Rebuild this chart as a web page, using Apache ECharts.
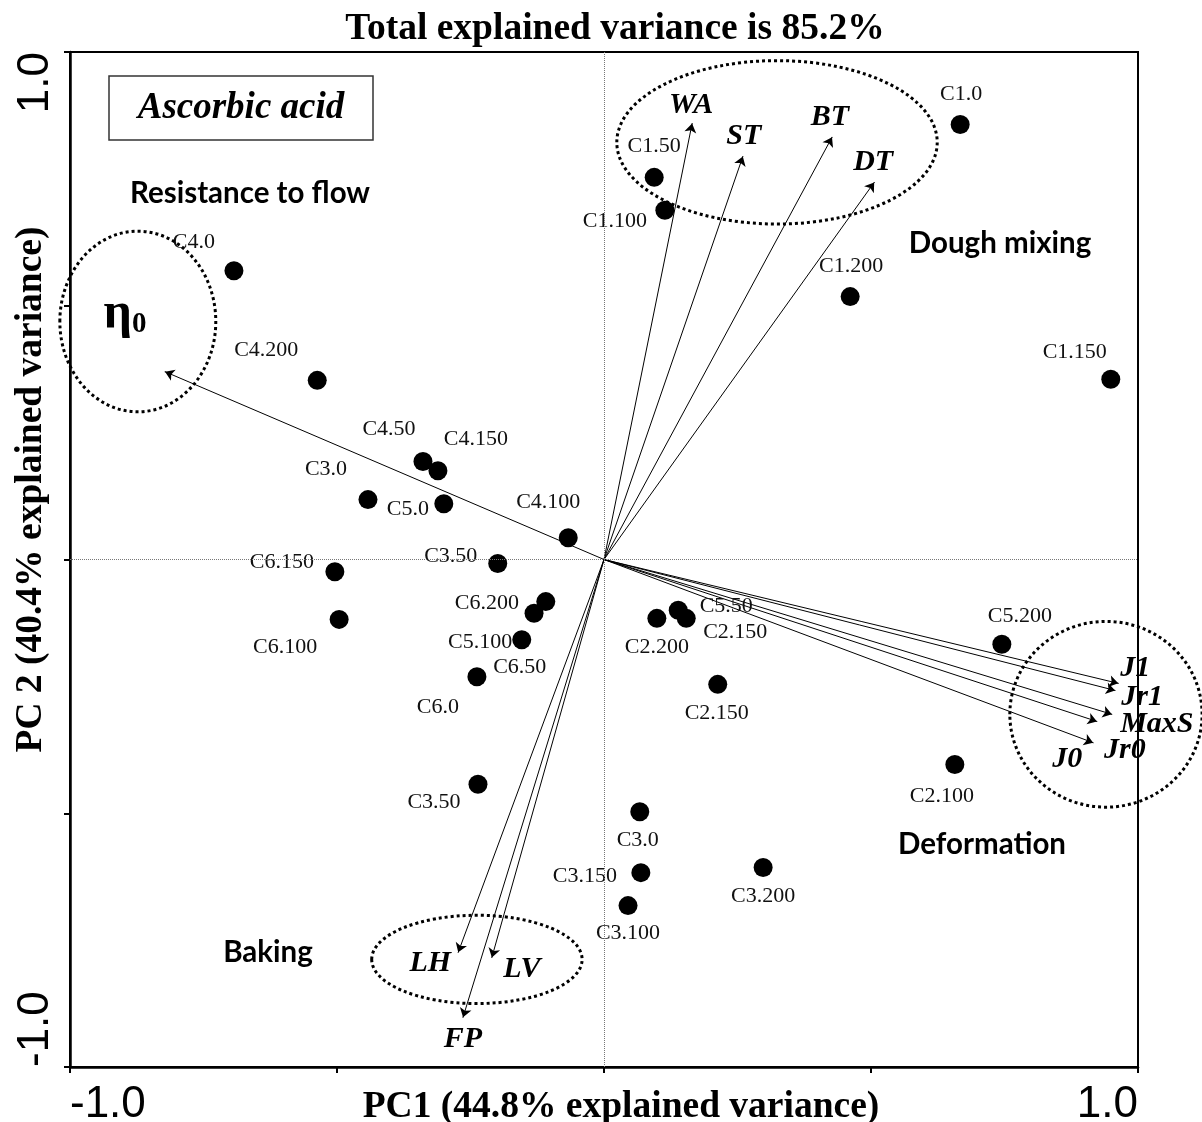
<!DOCTYPE html>
<html><head><meta charset="utf-8">
<script src="https://cdn.jsdelivr.net/npm/echarts@6/dist/echarts.min.js"></script>
<style>html,body{margin:0;padding:0;background:#fff}#chart{width:1202px;height:1122px}</style>
</head><body><div id="chart"></div>
<script>
// ---------------- data ----------------
const sampleNames = ['C1.0','C1.50','C1.100','C1.200','C1.150','C4.0','C4.200','C4.50','C4.150','C3.0','C5.0','C4.100','C3.50','C6.150','C6.100','C6.200','C5.100','C6.50','C6.0','C3.50','C2.200','C5.50','C2.150','C2.150','C5.200','C2.100','C3.0','C3.150','C3.100','C3.200'];
const scoresPC1 = [0.667,0.094,0.114,0.461,0.949,-0.693,-0.537,-0.339,-0.311,-0.442,-0.300,-0.067,-0.199,-0.504,-0.496,-0.109,-0.131,-0.154,-0.238,-0.236,0.099,0.139,0.154,0.213,0.745,0.657,0.067,0.069,0.045,0.298];
const scoresPC2 = [0.857,0.753,0.688,0.518,0.355,0.569,0.353,0.193,0.175,0.118,0.110,0.043,-0.008,-0.024,-0.118,-0.083,-0.106,-0.158,-0.231,-0.443,-0.116,-0.100,-0.116,-0.246,-0.167,-0.404,-0.497,-0.617,-0.682,-0.607];

const loadingNames = ['WA','ST','BT','DT','η0','J1','Jr1','MaxS','Jr0','J0','LH','LV','FP'];
const loadingsPC1 = [0.165,0.260,0.427,0.506,-0.822,0.963,0.957,0.951,0.923,0.916,-0.273,-0.210,-0.264];
const loadingsPC2 = [0.859,0.794,0.832,0.743,0.370,-0.244,-0.258,-0.305,-0.319,-0.361,-0.774,-0.784,-0.902];

const axisTickLabels = {'-1': '-1.0', '1': '1.0'};
const titleText = 'Total explained variance is 85.2%';
const xAxisTitle = 'PC1 (44.8% explained variance)';
const yAxisTitle = 'PC 2 (40.4% explained variance)';
const boxText = 'Ascorbic acid';
const groupLabels = ['Resistance to flow','Dough mixing','Deformation','Baking'];

// ---------------- layout / style ----------------
const sampleLabelOffsets = [[1,-30],[0,-31],[-50,11],[1,-30],[-36,-27],[-40,-29],[-51,-30],[-34,-32],[38,-31],[-42,-30],[-36,6],[-20,-35],[-47,-7],[-53,-9],[-54,28],[-59,2],[-54,29],[-2,28],[-39,30],[-44,18],[0,29],[48,-4],[49,14],[-1,29],[18,-28],[-13,32],[-2,28],[-56,4],[0,28],[0,29]];
const loadingLabelOffsets = [[-1,-18],[1,-20],[-2,-20],[-1,-20],[-40,-58],[17,-15],[27,7],[45,10],[28,29],[-26,17],[-28,11],[30,12],[0,22]];
const groupLabelPos = [[250,193],[1000,243],[982,844],[268,952]];
// ellipses: centre and radii in PC units
const ellipses = [
  {c:[-0.873,0.469], r:[0.146,0.178]},
  {c:[0.324,0.822], r:[0.300,0.161]},
  {c:[0.940,-0.305], r:[0.180,0.183]},
  {c:[-0.238,-0.788], r:[0.197,0.087]}
];
const SERIF = 'Liberation Serif';

const chart = echarts.init(document.getElementById('chart'), null, {renderer:'canvas'});

const tickFmt = v => axisTickLabels[String(v)] || '';

const option = {
  animation: false,
  backgroundColor: '#fff',
  title: {
    text: titleText, left: 610, top: 5, textAlign: 'center',
    textStyle: {fontFamily: SERIF, fontWeight: 'bold', fontSize: 37.5, color: '#000'}
  },
  grid: {left: 70, top: 52, width: 1068, height: 1015, show: true, borderColor: '#000', borderWidth: 2,
    containLabel: false, outerBoundsMode: 'none'},
  xAxis: {
    type: 'value', min: -1, max: 1, interval: 0.5, position: 'bottom',
    axisLine: {onZero: false, lineStyle: {color: '#000', width: 2.5}},
    axisTick: {show: true, length: 6, lineStyle: {color: '#000', width: 2}},
    splitLine: {show: false},
    axisLabel: {formatter: tickFmt, fontFamily: 'Liberation Sans', fontSize: 44, color: '#000', margin: 16,
      alignMinLabel: 'left', alignMaxLabel: 'right', showMinLabel: true, showMaxLabel: true, hideOverlap: false},
    name: xAxisTitle, nameLocation: 'middle', nameGap: 21, nameMoveOverlap: false,
    nameTextStyle: {fontFamily: SERIF, fontWeight: 'bold', fontSize: 37.5, color: '#000', padding: [0,0,0,34]}
  },
  yAxis: {
    type: 'value', min: -1, max: 1, interval: 0.5, position: 'left',
    axisLine: {onZero: false, lineStyle: {color: '#000', width: 2.5}},
    axisTick: {show: true, length: 6, lineStyle: {color: '#000', width: 2}},
    splitLine: {show: false},
    axisLabel: {formatter: tickFmt, rotate: 90, fontFamily: 'Liberation Sans', fontSize: 44, color: '#000', margin: 12,
      alignMinLabel: 'left', alignMaxLabel: 'right', showMinLabel: true, showMaxLabel: true, hideOverlap: false},
    name: yAxisTitle, nameLocation: 'middle', nameGap: 20, nameMoveOverlap: false,
    nameTextStyle: {fontFamily: SERIF, fontWeight: 'bold', fontSize: 37.5, color: '#000', padding: [0,0,0,140]}
  },
  series: [
    {
      type: 'lines', name: 'loadings', coordinateSystem: 'cartesian2d', silent: true, z: 3,
      symbol: ['none', 'arrow'], symbolSize: 9,
      lineStyle: {color: '#000', width: 1, opacity: 1, curveness: 0},
      data: loadingNames.map((n, i) => ({name: n, coords: [[0, 0], [loadingsPC1[i], loadingsPC2[i]]]}))
    },
    {
      type: 'scatter', name: 'scores', symbol: 'circle', symbolSize: 19, z: 4,
      itemStyle: {color: '#000', opacity: 1},
      label: {show: true, position: 'inside', formatter: '{b}', color: '#111', fontFamily: SERIF, fontSize: 22},
      data: sampleNames.map((n, i) => ({name: n, value: [scoresPC1[i], scoresPC2[i]], label: {offset: sampleLabelOffsets[i]}})),
      markLine: {
        silent: true, symbol: ['none', 'none'], label: {show: false}, animation: false,
        lineStyle: {type: 'dotted', color: '#777', width: 1},
        data: [{xAxis: 0}, {yAxis: 0}]
      }
    },
    {
      type: 'scatter', name: 'loadingLabels', symbolSize: 1, z: 5, silent: true,
      itemStyle: {color: '#000', opacity: 1},
      label: {
        show: true, position: 'inside', color: '#000', opacity: 1, textBorderWidth: 0,
        fontFamily: SERIF, fontWeight: 'bold', fontStyle: 'italic', fontSize: 30,
        formatter: p => p.name === 'η0' ? '{e|η}{s|0}' : p.name,
        rich: {
          e: {fontFamily: SERIF, fontWeight: 'bold', fontStyle: 'normal', fontSize: 50, color: '#000'},
          s: {fontFamily: SERIF, fontWeight: 'bold', fontStyle: 'normal', fontSize: 29, color: '#000', verticalAlign: 'bottom'}
        }
      },
      data: loadingNames.map((n, i) => ({name: n, value: [loadingsPC1[i], loadingsPC2[i]], label: {offset: loadingLabelOffsets[i]}}))
    }
  ]
};
chart.setOption(option);

// annotations: ellipses, boxed title, group labels
const g = [];
ellipses.forEach(e => {
  const c = chart.convertToPixel({gridIndex: 0}, e.c);
  const p = chart.convertToPixel({gridIndex: 0}, [e.c[0] + e.r[0], e.c[1] + e.r[1]]);
  g.push({type: 'ellipse', silent: true, z: 6,
    shape: {cx: c[0], cy: c[1], rx: Math.abs(p[0] - c[0]), ry: Math.abs(c[1] - p[1])},
    style: {fill: 'none', stroke: '#000', lineWidth: 3, lineDash: [3, 3]}});
});
g.push({type: 'rect', silent: true, z: 6, shape: {x: 109, y: 76, width: 264, height: 64},
  style: {fill: '#fff', stroke: '#333', lineWidth: 1.5}});
g.push({type: 'text', silent: true, z: 7, x: 241, y: 108,
  style: {text: boxText, fontFamily: SERIF, fontWeight: 'bold', fontStyle: 'italic', fontSize: 37, fill: '#000', align: 'center', verticalAlign: 'middle'}});
groupLabels.forEach((t, i) => {
  g.push({type: 'text', silent: true, z: 7, x: groupLabelPos[i][0], y: groupLabelPos[i][1],
    style: {text: t, fontFamily: 'Lato', fontWeight: 'bold', fontSize: 29.5, fill: '#000', align: 'center', verticalAlign: 'middle'}});
});
chart.setOption({graphic: g});
</script>
</body></html>
